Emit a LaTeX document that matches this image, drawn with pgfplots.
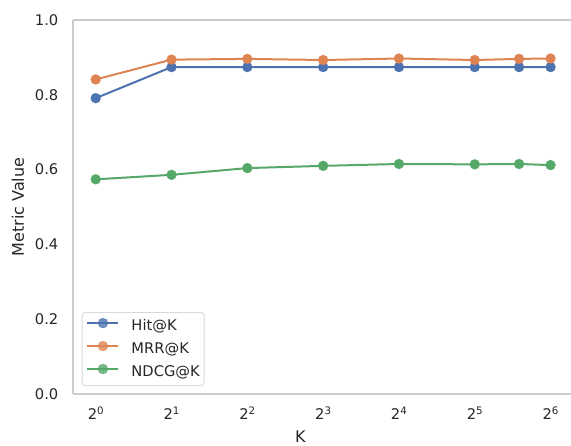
\documentclass[border=0pt]{standalone}
\usepackage{fontspec}
\setmainfont{DejaVu Sans}
\usepackage{pgfplots}
\pgfplotsset{compat=1.18}
\definecolor{sbblue}{HTML}{4C72B0}
\definecolor{sborange}{HTML}{DD8452}
\definecolor{sbgreen}{HTML}{55A868}
\definecolor{txt}{HTML}{262626}
\definecolor{spine}{HTML}{CCCCCC}
\definecolor{legbd}{HTML}{D9D9D9}
\newcommand{\sq}[1]{2\raisebox{5pt}{\fontsize{10.3}{12}\selectfont #1}}
\begin{document}
\begin{tikzpicture}
\begin{axis}[
  at={(73pt,52pt)}, anchor=south west,
  scale only axis, width=498pt, height=374pt,
  xmode=log, log basis x=2,
  xmin=0.8123, xmax=77.17, ymin=0, ymax=1.0,
  axis x line*=box, axis y line*=left,
  axis line style={spine, line width=1.4pt},
  major tick length=0pt,
  tick style={draw=none},
  xtick={1,2,4,8,16,32,64},
  xticklabels={\sq{0},\sq{1},\sq{2},\sq{3},\sq{4},\sq{5},\sq{6}},
  ytick={0,0.2,0.4,0.6,0.8,1.0},
  yticklabel style={/pgf/number format/fixed, /pgf/number format/fixed zerofill, /pgf/number format/precision=1, anchor=east, inner sep=0pt, xshift=-14.5pt},
  /pgf/number format/assume math mode=true,
  xticklabel style={anchor=base, inner sep=0pt, yshift=-26pt},
  tick label style={font=\fontsize{14.7}{17}\selectfont, text=txt},
  label style={font=\fontsize{16}{19}\selectfont, text=txt},
  xlabel={K}, ylabel={Metric Value},
  xlabel style={at={(axis description cs:0.4565,0)}, anchor=base, yshift=-48.4pt},
  ylabel style={at={(axis description cs:0,0.5)}, anchor=center, yshift=55pt},
  legend cell align=left,
  legend style={at={(rel axis cs:0.0175,0.0214)}, anchor=south west,
    draw=legbd, line width=0.9pt, rounded corners=3pt, fill=white, fill opacity=0.8, text opacity=1,
    font=\fontsize{14.7}{17}\selectfont, text=txt,
    inner xsep=4.3pt, inner ysep=5.6pt, row sep=7pt, column sep=12pt,
    nodes={inner sep=0pt, text height=11pt, text depth=3.5pt}},
  legend image code/.code={\draw[mark repeat=2,mark phase=2,#1] plot coordinates {(0pt,3.7pt) (15.5pt,3.7pt) (31pt,3.7pt)};},
  every axis plot/.append style={line width=2pt, mark=*, mark size=5pt},
]
\addplot[color=sbblue, mark options={fill=sbblue, draw=sbblue, line width=0.2pt}] coordinates {(1,0.791) (2,0.874) (4,0.874) (8,0.874) (16,0.874) (32,0.874) (48,0.874) (64,0.874)};
\addlegendentry{Hit@K}
\addplot[color=sborange, mark options={fill=sborange, draw=sborange, line width=0.2pt}] coordinates {(1,0.841) (2,0.894) (4,0.896) (8,0.893) (16,0.897) (32,0.893) (48,0.896) (64,0.897)};
\addlegendentry{MRR@K}
\addplot[color=sbgreen, mark options={fill=sbgreen, draw=sbgreen, line width=0.2pt}] coordinates {(1,0.574) (2,0.586) (4,0.604) (8,0.610) (16,0.615) (32,0.614) (48,0.615) (64,0.612)};
\addlegendentry{NDCG@K}
\end{axis}
\pgfresetboundingbox
\useasboundingbox (0,0) rectangle (571pt,446pt);
\end{tikzpicture}
\end{document}
